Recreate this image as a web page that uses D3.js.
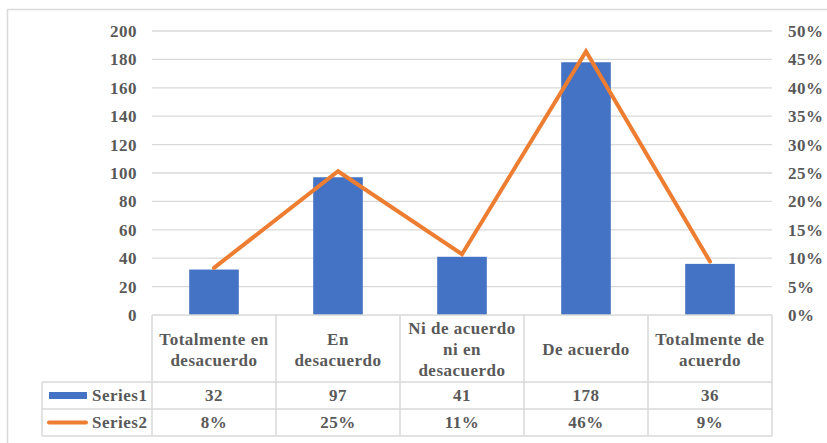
<!DOCTYPE html>
<html>
<head>
<meta charset="utf-8">
<script src="https://cdn.jsdelivr.net/npm/d3@7"></script>
<style>
  html, body { margin: 0; padding: 0; background: #fff; }
  svg { display: block; }
</style>
</head>
<body>
<script>
const categories = [
  ["Totalmente en", "desacuerdo"],
  ["En", "desacuerdo"],
  ["Ni de acuerdo", "ni en", "desacuerdo"],
  ["De acuerdo"],
  ["Totalmente de", "acuerdo"]
];
const categoryKeys = ["TD", "ED", "NN", "DA", "TA"];
const series1 = [32, 97, 41, 178, 36];
const series2 = [0.083, 0.253, 0.107, 0.464, 0.094];
const leftTicks = [0, 20, 40, 60, 80, 100, 120, 140, 160, 180, 200];
const rightTicks = [0, 0.05, 0.10, 0.15, 0.20, 0.25, 0.30, 0.35, 0.40, 0.45, 0.50];
const seriesNames = ["Series1", "Series2"];

const W = 827, H = 443;
const plotL = 152, plotR = 772, plotT = 31, plotB = 315;
const row1B = 382, row2B = 409, row3B = 436, legL = 42;
const gridColor = "#D9D9D9";
const barColor = "#4472C4", lineColor = "#ED7D31";
const FONT = '"Liberation Serif", "Times New Roman", serif';
const TXT = "#595959";

const svg = d3.select("body").append("svg").attr("width", W).attr("height", H);

function styleText(sel) {
  return sel.attr("font-family", FONT).attr("font-weight", "bold").attr("font-size", 17)
    .attr("letter-spacing", "0.5px").attr("fill", TXT);
}

// outer chart border (top & left visible)
svg.append("rect").attr("x", 7.5).attr("y", 9.5).attr("width", 900).attr("height", 500)
  .attr("fill", "none").attr("stroke", gridColor).attr("stroke-width", 1.5);

const x = d3.scaleBand().domain(categoryKeys).range([plotL, plotR]).paddingInner(0).paddingOuter(0);
const yL = d3.scaleLinear().domain([0, 200]).range([plotB, plotT]);
const yR = d3.scaleLinear().domain([0, 0.5]).range([plotB, plotT]);

// gridlines
svg.append("g").selectAll("line").data(leftTicks.filter(d => d > 0)).join("line")
  .attr("x1", plotL).attr("x2", plotR)
  .attr("y1", d => yL(d)).attr("y2", d => yL(d))
  .attr("stroke", gridColor).attr("stroke-width", 1.3);

// axes
const axL = svg.append("g").attr("transform", `translate(${plotL},0)`)
  .call(d3.axisLeft(yL).tickValues(leftTicks).tickSize(0).tickPadding(15));
axL.select(".domain").remove();
const axR = svg.append("g").attr("transform", `translate(${plotR},0)`)
  .call(d3.axisRight(yR).tickValues(rightTicks).tickSize(0).tickPadding(16).tickFormat(d3.format(".0%")));
axR.select(".domain").remove();
[axL, axR].forEach(a => {
  a.attr("font-family", FONT).attr("font-size", 17);
  styleText(a.selectAll(".tick text"));
});

// bars
const bw = x.bandwidth() * 0.4;
svg.append("g").selectAll("rect").data(series1).join("rect")
  .attr("x", (d, i) => x(categoryKeys[i]) + x.bandwidth() / 2 - bw / 2)
  .attr("width", bw)
  .attr("y", d => yL(d))
  .attr("height", d => plotB - yL(d))
  .attr("fill", barColor);

// line
const line = d3.line()
  .x((d, i) => x(categoryKeys[i]) + x.bandwidth() / 2)
  .y(d => yR(d));
svg.append("path").datum(series2).attr("d", line)
  .attr("fill", "none").attr("stroke", lineColor).attr("stroke-width", 4)
  .attr("stroke-linejoin", "miter").attr("stroke-linecap", "round");

// data table
const tg = svg.append("g").attr("stroke", gridColor).attr("stroke-width", 1.5);
[plotB, row1B, row2B, row3B].forEach((yy, i) => {
  tg.append("line").attr("x1", i === 0 ? plotL : legL).attr("x2", plotR).attr("y1", yy).attr("y2", yy);
});
tg.append("line").attr("x1", legL).attr("x2", legL).attr("y1", row1B).attr("y2", row3B);
const bounds = categoryKeys.map(k => x(k)).concat([plotR]);
bounds.forEach(bx => {
  tg.append("line").attr("x1", bx).attr("x2", bx).attr("y1", plotB).attr("y2", row3B);
});

// category labels
const lh = 21;
const catG = svg.append("g");
categories.forEach((lines, i) => {
  const cx = x(categoryKeys[i]) + x.bandwidth() / 2;
  const cy = (plotB + row1B) / 2 + 1;
  const t = styleText(catG.append("text")).attr("text-anchor", "middle");
  lines.forEach((ln, j) => {
    t.append("tspan").attr("x", cx)
      .attr("y", cy - (lines.length - 1) * lh / 2 + j * lh)
      .attr("dy", "0.35em").text(ln);
  });
});

// value rows
const fmtPct = d3.format(".0%");
styleText(svg.append("g").selectAll("text").data(series1).join("text"))
  .attr("x", (d, i) => x(categoryKeys[i]) + x.bandwidth() / 2)
  .attr("y", (row1B + row2B) / 2).attr("dy", "0.35em").attr("text-anchor", "middle")
  .text(d => d);
styleText(svg.append("g").selectAll("text").data(series2).join("text"))
  .attr("x", (d, i) => x(categoryKeys[i]) + x.bandwidth() / 2)
  .attr("y", (row2B + row3B) / 2).attr("dy", "0.35em").attr("text-anchor", "middle")
  .text(d => fmtPct(d));

// legend keys
svg.append("rect").attr("x", 49).attr("y", (row1B + row2B) / 2 - 3.5).attr("width", 38).attr("height", 7).attr("fill", barColor);
svg.append("line").attr("x1", 49).attr("x2", 86).attr("y1", (row2B + row3B) / 2).attr("y2", (row2B + row3B) / 2)
  .attr("stroke", lineColor).attr("stroke-width", 4).attr("stroke-linecap", "round");
styleText(svg.append("text")).attr("x", 92).attr("y", (row1B + row2B) / 2).attr("dy", "0.35em").text(seriesNames[0]);
styleText(svg.append("text")).attr("x", 92).attr("y", (row2B + row3B) / 2).attr("dy", "0.35em").text(seriesNames[1]);
</script>
</body>
</html>
